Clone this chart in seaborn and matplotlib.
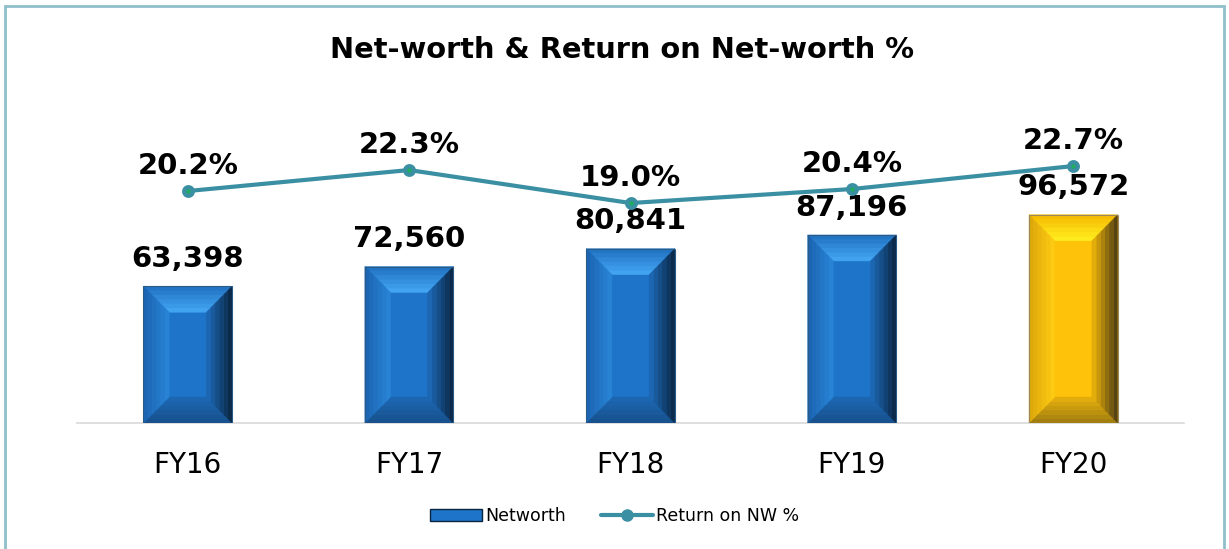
import seaborn as sns
import matplotlib.pyplot as plt
import matplotlib.colors as mcolors
import numpy as np
import pandas as pd
from matplotlib.patches import Polygon, Patch, Rectangle
from matplotlib.lines import Line2D

# chart data
years = ['FY16', 'FY17', 'FY18', 'FY19', 'FY20']
networth = [63398, 72560, 80841, 87196, 96572]
return_nw = [20.2, 22.3, 19.0, 20.4, 22.7]

df = pd.DataFrame({'year': years, 'networth': networth, 'ret': return_nw})

sns.set_style('white')
plt.rcParams['font.family'] = ['DejaVu Sans']
plt.rcParams['text.color'] = 'black'
plt.rcParams['xtick.color'] = 'black'

# bevel colours per side: (outer edge, inner edge)
blue = {'face': '#1e74c9', 'edge': '#2a5a86',
        'top': ('#1f6fc0', '#45a8f5'), 'left': ('#1a62ae', '#2a86d9'),
        'right': ('#0a2440', '#1e6cbc'), 'bottom': ('#174f8a', '#1c68b4')}
gold = {'face': '#ffc20a', 'edge': '#9a8858',
        'top': ('#f5b800', '#fff020'), 'left': ('#d9a50a', '#ffcc14'),
        'right': ('#4a3a14', '#f0b60a'), 'bottom': ('#9c7a10', '#e8b00c')}
bar_styles = [blue, blue, blue, blue, gold]
line_color = '#3a8fa3'

fig = plt.figure(figsize=(12.29, 5.49), dpi=100)
ax = fig.add_axes([0.0627, 0.2295, 0.9007, 0.601])

ymax = 153000
sns.barplot(data=df, x='year', y='networth', hue='year',
            palette=[s['face'] for s in bar_styles], width=0.40, saturation=1,
            legend=False, ax=ax, zorder=2)
ax.set_ylim(0, ymax)
ax.set_xlim(-0.5, 4.5)


def mix(c1, c2, t):
    a = np.array(mcolors.to_rgb(c1))
    b = np.array(mcolors.to_rgb(c2))
    return tuple(a + (b - a) * t)


def inset(x0, w, h, bx, by, t):
    return x0 + t * bx, t * by, x0 + w - t * bx, h - t * by


# bevel faces on each bar, sized from the bar itself
ax_h_px = 0.601 * 549
by = 26 * ymax / ax_h_px
nb = 6
for p, st in zip(ax.patches, bar_styles):
    x0, w, h = p.get_x(), p.get_width(), p.get_height()
    bx = 0.29 * w
    p.set_edgecolor('none')
    for k in range(nb):
        t0, t1 = k / nb, (k + 1) / nb
        a = inset(x0, w, h, bx, by, t0)
        b = inset(x0, w, h, bx, by, t1)
        sides = {
            'top': [(a[0], a[3]), (a[2], a[3]), (b[2], b[3]), (b[0], b[3])],
            'bottom': [(a[0], a[1]), (a[2], a[1]), (b[2], b[1]), (b[0], b[1])],
            'left': [(a[0], a[1]), (b[0], b[1]), (b[0], b[3]), (a[0], a[3])],
            'right': [(a[2], a[1]), (b[2], b[1]), (b[2], b[3]), (a[2], a[3])],
        }
        tm = (k + 0.5) / nb
        for side, pts in sides.items():
            c = mix(st[side][0], st[side][1], tm)
            ax.add_patch(Polygon(pts, closed=True, facecolor=c, edgecolor=c,
                                 lw=0.3, zorder=3))
    ax.add_patch(Rectangle((x0, 0), w, h, fill=False, edgecolor=st['edge'], lw=0.8, zorder=4))

for i, v in enumerate(networth):
    ax.annotate(f'{v:,}', (i, v), xytext=(0, 14), textcoords='offset points',
                ha='center', va='baseline', fontsize=21, fontweight='bold', color='black')

# axis styling
for s in ['top', 'right', 'left']:
    ax.spines[s].set_visible(False)
ax.spines['bottom'].set_color('#d9d9d9')
ax.spines['bottom'].set_linewidth(1.2)
ax.set_yticks([])
ax.set_xlabel('')
ax.set_ylabel('')
ax.tick_params(axis='x', which='major', length=0, pad=20, labelsize=20, labelcolor='black')
ax.set_xticks(np.arange(-0.5, 5, 1), minor=True)
ax.tick_params(axis='x', which='minor', length=7, color='#d9d9d9', width=1.2, direction='out')

# return on net-worth line
ax2 = ax.twinx()
sns.pointplot(data=df, x='year', y='ret', color=line_color, markers='o',
              markersize=7, linewidth=3, ax=ax2)
# small green centre of each marker
ax2.scatter(range(len(years)), return_nw, s=4, color='#1fae5a', zorder=5)
ax2.set_ylim(-3, 30)
ax2.set_xlim(-0.5, 4.5)
ax2.axis('off')
for i, v in enumerate(return_nw):
    ax2.annotate(f'{v:.1f}%', (i, v), xytext=(0, 12), textcoords='offset points',
                 ha='center', va='baseline', fontsize=21, fontweight='bold', color='black')

fig.text(0.506, 0.894, 'Net-worth & Return on Net-worth %', ha='center', va='baseline',
         fontsize=20.8, fontweight='bold', color='black')

handles = [Patch(facecolor=blue['face'], edgecolor=blue['right'][0], lw=1),
           Line2D([0], [0], color=line_color, lw=3, marker='o', markersize=8)]
fig.legend(handles, ['Networth', 'Return on NW %'], loc='center',
           bbox_to_anchor=(0.5, 0.06), ncol=2, frameon=False, fontsize=12.5,
           handlelength=3.0, handletextpad=0.2, columnspacing=2.0, labelcolor='black')

# chart border
fig.patches.append(Rectangle((0.004, -0.01), 0.992, 0.999, transform=fig.transFigure,
                             fill=False, edgecolor='#8fbfca', lw=2))

fig.savefig('out.png', dpi=100)
